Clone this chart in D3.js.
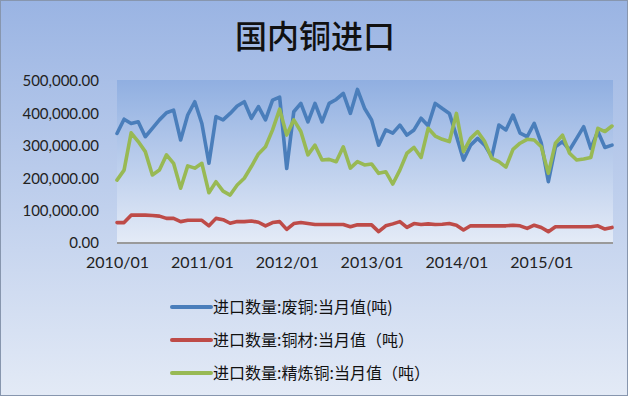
<!DOCTYPE html>
<html>
<head>
<meta charset="utf-8">
<script src="https://cdn.jsdelivr.net/npm/d3@7"></script>
<style>
  html, body { margin: 0; padding: 0; background: #fff; }
  svg { display: block; }
</style>
</head>
<body>
<div id="chart"></div>
<script>
// ----- data (tonnes, monthly, 2010/01 - 2015/11) -----
const months = [];
for (let y = 2010; y <= 2015; y++) {
    for (let m = 1; m <= 12; m++) {
        if (y === 2015 && m > 11) break;
        months.push(y + "/" + String(m).padStart(2, "0"));
    }
}

const scrapCopper = [
    338000, 382000, 369000, 374000, 328000, 354000, 380000, 402000, 410000, 318000, 395000, 436000,
    369000, 246000, 390000, 380000, 400000, 423000, 436000, 385000, 421000, 380000, 441000, 450000,
    230000, 405000, 431000, 374000, 431000, 374000, 431000, 443000, 462000, 400000, 474000, 416000,
    380000, 302000, 349000, 339000, 364000, 333000, 349000, 385000, 362000, 431000, 415000, 400000,
    330000, 256000, 302000, 323000, 302000, 266000, 364000, 349000, 395000, 339000, 328000, 369000,
    308000, 189000, 297000, 313000, 287000, 323000, 359000, 292000, 344000, 295000, 302000
];
const copperProducts = [
    63000, 63000, 86000, 86000, 86000, 85000, 83000, 76000, 76000, 66000, 70000, 70000,
    70000, 53000, 76000, 72000, 61000, 66000, 66000, 68000, 64000, 53000, 63000, 66000,
    42000, 60000, 63000, 60000, 57000, 57000, 57000, 57000, 57000, 50000, 56000, 56000,
    56000, 35000, 53000, 59000, 66000, 48000, 60000, 57000, 59000, 57000, 58000, 60000,
    55000, 40000, 53000, 53000, 53000, 53000, 53000, 53000, 55000, 53000, 45000, 55000,
    48000, 35000, 50000, 50000, 50000, 50000, 50000, 50000, 53000, 43000, 48000
];
const refinedCopper = [
    194000, 225000, 340000, 313000, 282000, 210000, 225000, 272000, 246000, 169000, 238000, 231000,
    246000, 155000, 189000, 160000, 148000, 179000, 200000, 236000, 275000, 297000, 349000, 413000,
    333000, 380000, 344000, 272000, 302000, 256000, 258000, 251000, 297000, 231000, 251000, 241000,
    244000, 215000, 220000, 182000, 225000, 277000, 295000, 264000, 354000, 330000, 320000, 313000,
    400000, 282000, 323000, 344000, 313000, 261000, 251000, 234000, 289000, 308000, 320000, 318000,
    297000, 215000, 308000, 333000, 277000, 256000, 259000, 264000, 354000, 344000, 361000
];

const yTicks = [0, 100000, 200000, 300000, 400000, 500000];
const xTickLabels = ["2010/01", "2011/01", "2012/01", "2013/01", "2014/01", "2015/01"];

const seriesNames = [
    "进口数量:废铜:当月值(吨)",
    "进口数量:铜材:当月值（吨）",
    "进口数量:精炼铜:当月值（吨）"
];
const seriesColors = ["#4a7ebb", "#be4b48", "#98b954"];
const seriesValues = [scrapCopper, copperProducts, refinedCopper];

// ----- layout -----
const width = 628, height = 396;
const plot = { left: 117, right: 613, top: 80, bottom: 243 };

const svg = d3.select("#chart")
    .append("svg")
    .attr("width", width)
    .attr("height", height);

const defs = svg.append("defs");
const bgGrad = defs.append("linearGradient")
    .attr("id", "bgGrad").attr("x1", 0).attr("y1", 0).attr("x2", 0).attr("y2", 1);
bgGrad.append("stop").attr("offset", "0%").attr("stop-color", "#9ab4e3");
bgGrad.append("stop").attr("offset", "100%").attr("stop-color", "#e3eaf6");

const plotGrad = defs.append("linearGradient")
    .attr("id", "plotGrad").attr("x1", 0).attr("y1", 0).attr("x2", 0).attr("y2", 1);
plotGrad.append("stop").attr("offset", "0%").attr("stop-color", "#90afe1");
plotGrad.append("stop").attr("offset", "100%").attr("stop-color", "#e4ebf7");

// chart background + border
svg.append("rect")
    .attr("x", 0.5).attr("y", 0.5)
    .attr("width", width - 1).attr("height", height - 1)
    .attr("fill", "url(#bgGrad)")
    .attr("stroke", "#8796ae");

// plot area
svg.append("rect")
    .attr("x", plot.left).attr("y", plot.top)
    .attr("width", plot.right - plot.left).attr("height", plot.bottom - plot.top)
    .attr("fill", "url(#plotGrad)");

// title
svg.append("text")
    .attr("x", 315).attr("y", 48)
    .attr("text-anchor", "middle")
    .style("font-family", "'Noto Sans CJK SC', sans-serif")
    .style("font-size", "32px")
    .style("font-weight", 500)
    .style("fill", "#111")
    .text("国内铜进口");

// scales
const x = d3.scalePoint().domain(months).range([plot.left, plot.right - 1]);
const y = d3.scaleLinear().domain([0, 500000]).range([plot.bottom, plot.top + 1]);

// y axis (labels only)
const yAxis = d3.axisLeft(y)
    .tickValues(yTicks)
    .tickFormat(d3.format(",.2f"))
    .tickSize(0)
    .tickPadding(0);
svg.append("g")
    .attr("transform", `translate(${plot.left - 18},0)`)
    .call(yAxis)
    .call(g => g.select(".domain").remove())
    .call(g => g.selectAll("text")
        .style("font-family", "Lato, 'Noto Sans', sans-serif")
        .style("font-size", "15px")
        .style("fill", "#222"));

// x axis
const xAxis = d3.axisBottom(x)
    .tickValues(xTickLabels)
    .tickSize(0)
    .tickPadding(14);
svg.append("g")
    .attr("transform", `translate(0,${plot.bottom})`)
    .call(xAxis)
    .call(g => g.select(".domain")
        .attr("stroke", "#9a9a9a")
        .attr("stroke-width", 2)
        .attr("d", `M${plot.left},0H${plot.right}`))
    .call(g => g.selectAll("text")
        .style("font-family", "Lato, 'Noto Sans', sans-serif")
        .style("font-size", "16px")
        .style("fill", "#222"));

// lines
const line = d3.line()
    .x((d, i) => x(months[i]))
    .y(d => y(d));

seriesValues.forEach((vals, k) => {
    svg.append("path")
        .datum(vals)
        .attr("fill", "none")
        .attr("stroke", seriesColors[k])
        .attr("stroke-width", 3.6)
        .attr("stroke-linejoin", "round")
        .attr("stroke-linecap", "round")
        .attr("d", line);
});

// legend
const legend = svg.append("g").attr("transform", "translate(172,307)");
seriesNames.forEach((name, k) => {
    const row = legend.append("g").attr("transform", `translate(0,${k * 33})`);
    row.append("line")
        .attr("x1", 0).attr("x2", 39)
        .attr("y1", 0).attr("y2", 0)
        .attr("stroke", seriesColors[k])
        .attr("stroke-width", 4)
        .attr("stroke-linecap", "round");
    row.append("text")
        .attr("x", 41).attr("y", 0)
        .attr("dy", "0.35em")
        .style("font-family", "'Noto Sans CJK SC', sans-serif")
        .style("font-size", "16px")
        .style("fill", "#111")
        .text(name);
});
</script>
</body>
</html>
